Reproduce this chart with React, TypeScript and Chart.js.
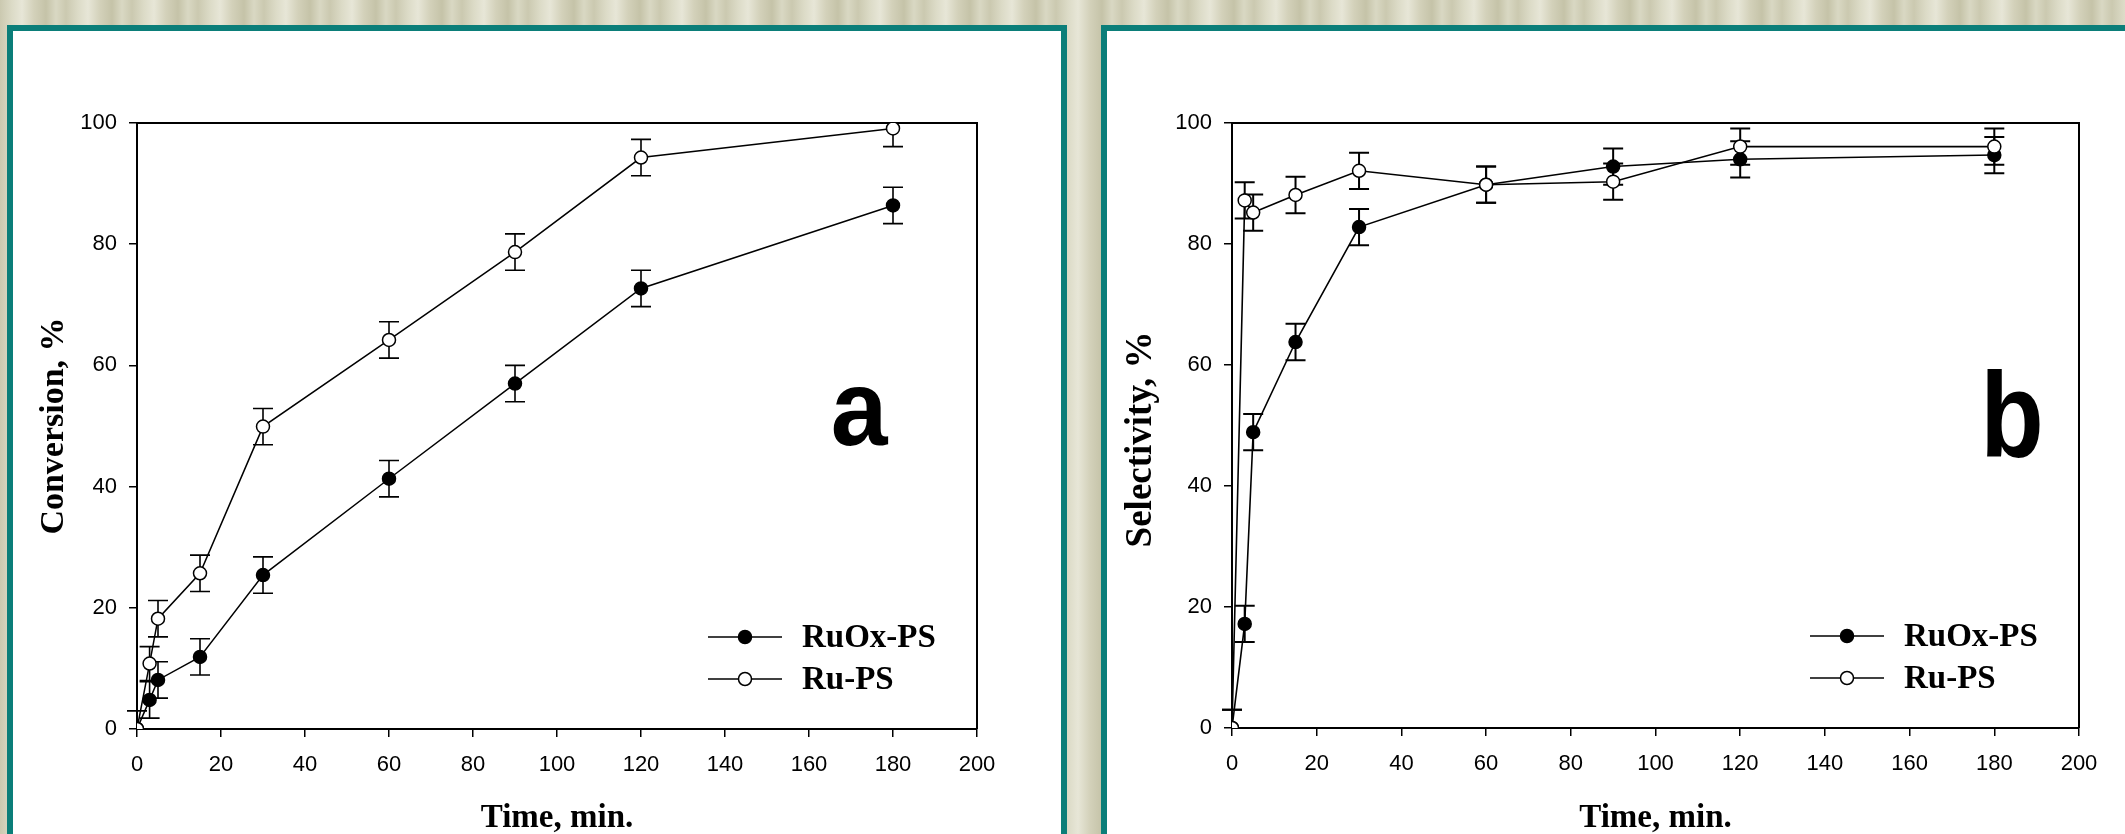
import React, { useEffect, useRef } from "react";
import { Chart, registerables } from "chart.js";

Chart.register(...registerables);

// ---------- data ----------
const times = [0, 3, 5, 15, 30, 60, 90, 120, 180];
const seriesLabels = ["RuOx-PS", "Ru-PS"];

const conversionRuOx = [0, 4.8, 8.1, 11.9, 25.4, 41.3, 57.0, 72.7, 86.4];
const conversionRu = [0, 10.8, 18.2, 25.7, 49.9, 64.2, 78.7, 94.3, 99.1];
const conversionRuOxErr = [3, 3, 3, 3, 3, 3, 3, 3, 3];
const conversionRuErr = [3, 2.8, 3, 3, 3, 3, 3, 3, 3];

const selectivityRuOx = [0, 17.2, 48.9, 63.8, 82.8, 89.8, 92.8, 94.0, 94.7];
const selectivityRu = [0, 87.2, 85.2, 88.1, 92.1, 89.8, 90.3, 96.1, 96.1];
const selectivityRuOxErr = [3, 3, 3, 3, 3, 3, 3, 3, 3];
const selectivityRuErr = [3, 3, 3, 3, 3, 3, 3, 3, 3];

const xTickValues = [0, 20, 40, 60, 80, 100, 120, 140, 160, 180, 200];
const yTickValues = [0, 20, 40, 60, 80, 100];

const xTitle = "Time, min.";
const yTitleA = "Conversion, %";
const yTitleB = "Selectivity, %";

// ---------- plugins ----------
const errorBarPlugin = {
  id: "errorBars",
  beforeDatasetsDraw(chart: any, _args: any, opts: any) {
    const { ctx, chartArea, scales } = chart;
    ctx.save();
    ctx.beginPath();
    ctx.rect(chartArea.left - 20, chartArea.top, chartArea.right - chartArea.left + 40, chartArea.bottom - chartArea.top);
    ctx.clip();
    ctx.strokeStyle = "#000";
    ctx.lineWidth = opts.lineWidth || 1.5;
    const cap = opts.capHalf || 10;
    chart.data.datasets.forEach((ds: any) => {
      const errs = ds.errorBars;
      if (!errs) return;
      ds.data.forEach((pt: any, j: number) => {
        const x = scales.x.getPixelForValue(pt.x);
        const yt = scales.y.getPixelForValue(pt.y + errs[j]);
        const yb = scales.y.getPixelForValue(pt.y - errs[j]);
        ctx.beginPath();
        ctx.moveTo(x, yt);
        ctx.lineTo(x, yb);
        ctx.moveTo(x - cap, yt);
        ctx.lineTo(x + cap, yt);
        ctx.moveTo(x - cap, yb);
        ctx.lineTo(x + cap, yb);
        ctx.stroke();
      });
    });
    ctx.restore();
  },
};

const framePlugin = {
  id: "frame",
  beforeDatasetsDraw(chart: any, _args: any, opts: any) {
    const { ctx, chartArea } = chart;
    ctx.save();
    ctx.strokeStyle = "#000";
    ctx.lineWidth = opts.lineWidth || 2;
    ctx.beginPath();
    ctx.moveTo(chartArea.left, chartArea.top);
    ctx.lineTo(chartArea.right, chartArea.top);
    ctx.lineTo(chartArea.right, chartArea.bottom);
    ctx.stroke();
    ctx.restore();
  },
};

const yTitlePlugin = {
  id: "yTitle",
  afterDraw(chart: any, _args: any, opts: any) {
    const { ctx, chartArea } = chart;
    ctx.save();
    ctx.fillStyle = "#000";
    ctx.font = opts.font;
    ctx.textAlign = "center";
    ctx.textBaseline = "middle";
    ctx.translate(opts.x, (chartArea.top + chartArea.bottom) / 2 + opts.dy);
    ctx.rotate(-Math.PI / 2);
    ctx.fillText(opts.text, 0, 0);
    ctx.restore();
  },
};

const lineLegendPlugin = {
  id: "lineLegend",
  afterDraw(chart: any, _args: any, opts: any) {
    const { ctx, chartArea } = chart;
    const x0 = chartArea.right + opts.dx;
    ctx.save();
    opts.order.forEach((di: number, k: number) => {
      const ds = chart.data.datasets[di];
      const y = chartArea.bottom + opts.dy + k * opts.spacing;
      ctx.strokeStyle = "#000";
      ctx.lineWidth = ds.borderWidth;
      ctx.beginPath();
      ctx.moveTo(x0, y);
      ctx.lineTo(x0 + opts.lineLength, y);
      ctx.stroke();
      ctx.beginPath();
      ctx.arc(x0 + opts.lineLength / 2, y, ds.pointRadius, 0, Math.PI * 2);
      ctx.fillStyle = ds.pointBackgroundColor;
      ctx.fill();
      ctx.lineWidth = ds.pointBorderWidth;
      ctx.strokeStyle = ds.pointBorderColor;
      ctx.stroke();
      ctx.fillStyle = "#000";
      ctx.font = opts.font;
      ctx.textBaseline = "middle";
      ctx.textAlign = "left";
      ctx.fillText(ds.label, x0 + opts.lineLength + opts.textGap, y + 1);
    });
    ctx.restore();
  },
};

const panelLetterPlugin = {
  id: "panelLetter",
  afterDraw(chart: any, _args: any, opts: any) {
    const { ctx, chartArea } = chart;
    ctx.save();
    ctx.fillStyle = "#000";
    ctx.font = opts.font;
    ctx.textBaseline = "alphabetic";
    ctx.textAlign = "center";
    ctx.translate(chartArea.right + opts.dx, chartArea.top + opts.dy);
    ctx.scale(1, opts.scaleY || 1);
    ctx.fillText(opts.text, 0, 0);
    ctx.restore();
  },
};

// ---------- chart builder ----------
type Cfg = {
  width: number;
  height: number;
  padLeft: number;
  padRight: number;
  padTop: number;
  yAxisWidth: number;
  xAxisHeight: number;
  yTitle: string;
  yTitleFont: string;
  yTitleX: number;
  yTitleDy: number;
  ruOx: number[];
  ruOxErr: number[];
  ru: number[];
  ruErr: number[];
  letter: string;
  letterFont: string;
  letterScaleY: number;
  letterDx: number;
  letterDy: number;
  lineWidth: number;
  errWidth: number;
};

function buildConfig(c: Cfg): any {
  const tickFont = { family: "'Liberation Sans', Arial, sans-serif", size: 22 };
  const titleFont = { family: "'Liberation Serif', 'Times New Roman', serif", size: 33, weight: "bold" };
  const mk = (vals: number[]) => times.map((t, i) => ({ x: t, y: vals[i] }));
  return {
    type: "line",
    data: {
      datasets: [
        {
          label: seriesLabels[0],
          data: mk(c.ruOx),
          errorBars: c.ruOxErr,
          borderColor: "#000",
          borderWidth: c.lineWidth,
          pointRadius: 6.5,
          pointBorderWidth: 1.5,
          pointBackgroundColor: "#000",
          pointBorderColor: "#000",
          fill: false,
          tension: 0,
          order: 1,
        },
        {
          label: seriesLabels[1],
          data: mk(c.ru),
          errorBars: c.ruErr,
          borderColor: "#000",
          borderWidth: c.lineWidth,
          pointRadius: 6.5,
          pointBorderWidth: 1.5,
          pointBackgroundColor: "#fff",
          pointBorderColor: "#000",
          fill: false,
          tension: 0,
          order: 0,
        },
      ],
    },
    options: {
      responsive: false,
      animation: false,
      devicePixelRatio: 1,
      events: [],
      layout: { padding: { left: c.padLeft, right: c.padRight, top: c.padTop, bottom: 0 } },
      plugins: {
        legend: { display: false },
        tooltip: { enabled: false },
        errorBars: { lineWidth: c.errWidth, capHalf: 10 },
        frame: { lineWidth: 2 },
        yTitle: { text: c.yTitle, font: c.yTitleFont, x: c.yTitleX, dy: c.yTitleDy },
        lineLegend: {
          order: [0, 1],
          dx: -269,
          dy: -92,
          spacing: 42,
          lineLength: 74,
          textGap: 20,
          font: "bold 33px 'Liberation Serif', 'Times New Roman', serif",
        },
        panelLetter: {
          text: c.letter,
          font: c.letterFont,
          scaleY: c.letterScaleY,
          dx: c.letterDx,
          dy: c.letterDy,
        },
      },
      scales: {
        x: {
          type: "linear",
          min: xTickValues[0],
          max: xTickValues[xTickValues.length - 1],
          ticks: {
            stepSize: xTickValues[1] - xTickValues[0],
            font: tickFont,
            color: "#000",
            padding: 15,
            maxRotation: 0,
            autoSkip: false,
          },
          grid: { drawOnChartArea: false, drawTicks: true, tickLength: 8, color: "#000", lineWidth: 1.5 },
          border: { display: true, color: "#000", width: 2 },
          title: { display: true, text: xTitle, font: titleFont, color: "#000", padding: { top: 0, bottom: 23 } },
          afterFit: (s: any) => {
            s.height = c.xAxisHeight;
          },
        },
        y: {
          type: "linear",
          min: yTickValues[0],
          max: yTickValues[yTickValues.length - 1],
          ticks: {
            stepSize: yTickValues[1] - yTickValues[0],
            font: tickFont,
            color: "#000",
            padding: 12,
          },
          grid: { drawOnChartArea: false, drawTicks: true, tickLength: 8, color: "#000", lineWidth: 1.5 },
          border: { display: true, color: "#000", width: 2 },
          title: { display: false },
          afterFit: (s: any) => {
            s.width = c.yAxisWidth;
          },
        },
      },
    },
    plugins: [errorBarPlugin, framePlugin, yTitlePlugin, lineLegendPlugin, panelLetterPlugin],
  };
}

function ChartCanvas({ cfg, left, top }: { cfg: Cfg; left: number; top: number }) {
  const ref = useRef<HTMLCanvasElement | null>(null);
  useEffect(() => {
    if (!ref.current) return;
    const chart = new Chart(ref.current, buildConfig(cfg));
    return () => chart.destroy();
  }, []);
  return (
    <canvas
      ref={ref}
      width={cfg.width}
      height={cfg.height}
      style={{ position: "absolute", left, top, width: cfg.width, height: cfg.height }}
    />
  );
}

const teal = "#0b7e79";

export default function App() {
  useEffect(() => {
    document.body.style.margin = "0";
    document.body.style.overflow = "hidden";
  }, []);

  const cfgA: Cfg = {
    width: 1048,
    height: 830,
    padLeft: 10,
    padRight: 84,
    padTop: 92,
    yAxisWidth: 114,
    xAxisHeight: 132,
    yTitle: yTitleA,
    yTitleFont: "bold 34px 'Liberation Serif', 'Times New Roman', serif",
    yTitleX: 41,
    yTitleDy: 0,
    ruOx: conversionRuOx,
    ruOxErr: conversionRuOxErr,
    ru: conversionRu,
    ruErr: conversionRuErr,
    letter: "a",
    letterFont: "bold 102px 'Liberation Sans', Arial, sans-serif",
    letterScaleY: 1.05,
    letterDx: -118,
    letterDy: 322,
    lineWidth: 1.5,
    errWidth: 1.6,
  };
  const cfgB: Cfg = {
    width: 1017,
    height: 830,
    padLeft: 5,
    padRight: 45,
    padTop: 92,
    yAxisWidth: 120,
    xAxisHeight: 133,
    yTitle: yTitleB,
    yTitleFont: "bold 37px 'Liberation Serif', 'Times New Roman', serif",
    yTitleX: 34,
    yTitleDy: 14,
    ruOx: selectivityRuOx,
    ruOxErr: selectivityRuOxErr,
    ru: selectivityRu,
    ruErr: selectivityRuErr,
    letter: "b",
    letterFont: "bold 104px 'Liberation Sans', Arial, sans-serif",
    letterScaleY: 1.15,
    letterDx: -67,
    letterDy: 334,
    lineWidth: 1.6,
    errWidth: 2,
  };

  return (
    <div
      style={{
        position: "fixed",
        left: 0,
        top: 0,
        width: 2125,
        height: 834,
        overflow: "hidden",
        background:
          "repeating-linear-gradient(90deg, #cbc9b0 0px, #dcdbc7 12px, #e7e6d7 22px, #d3d1ba 34px, #c5c3a8 46px, #d9d8c3 56px, #cbc9b0 66px)",
      }}
    >
      <div
        style={{
          position: "absolute",
          left: 7,
          top: 25,
          width: 1060,
          height: 900,
          boxSizing: "border-box",
          border: `6px solid ${teal}`,
          background: "#fff",
        }}
      />
      <div
        style={{
          position: "absolute",
          left: 1101,
          top: 25,
          width: 1100,
          height: 900,
          boxSizing: "border-box",
          border: `6px solid ${teal}`,
          background: "#fff",
        }}
      />
      <ChartCanvas cfg={cfgA} left={13} top={31} />
      <ChartCanvas cfg={cfgB} left={1107} top={31} />
    </div>
  );
}
